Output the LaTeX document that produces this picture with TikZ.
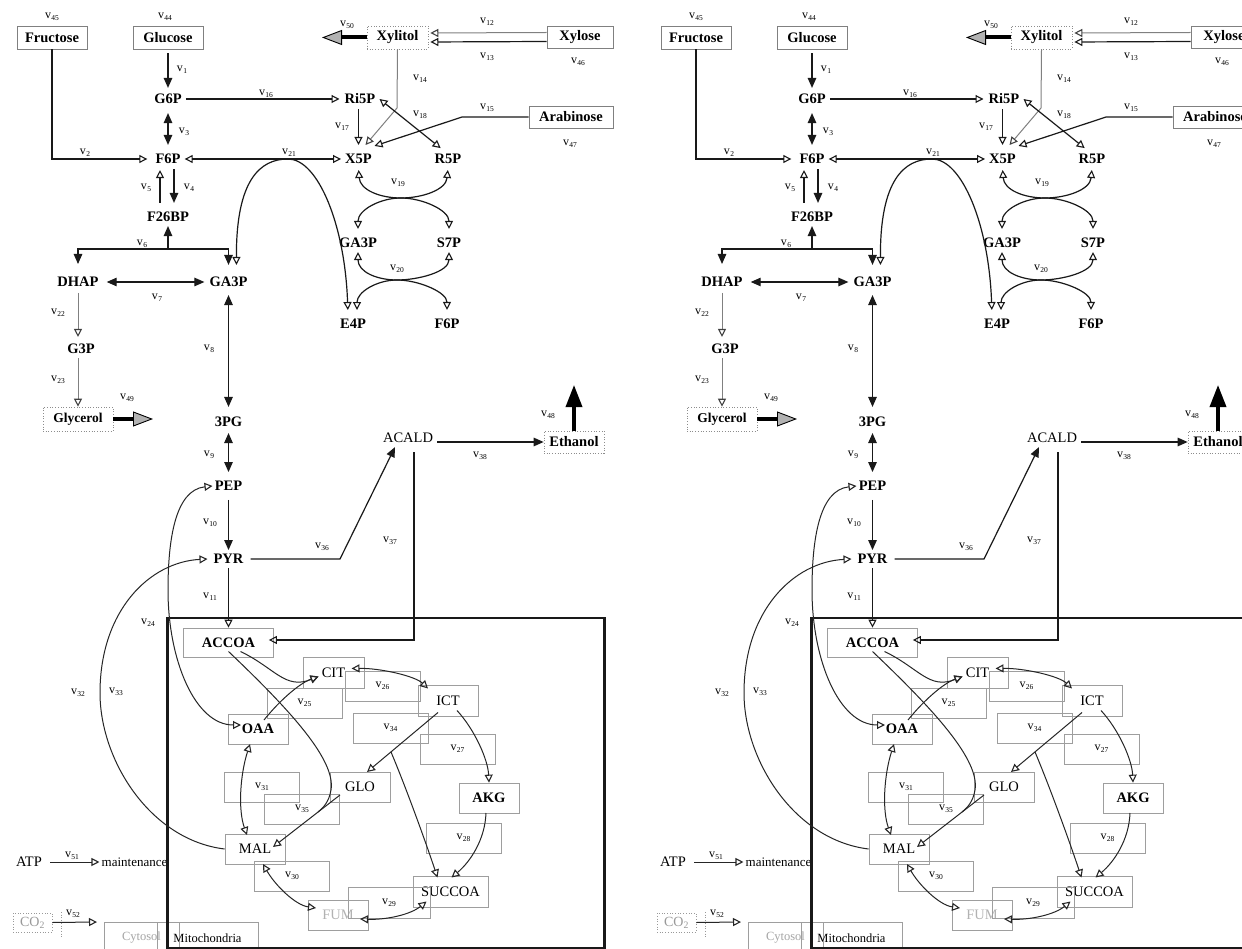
\documentclass[tikz,border=0pt]{standalone}
\usepackage{fontspec}
\setmainfont{Liberation Serif}
\usetikzlibrary{arrows.meta,calc}
\newcommand{\vl}[1]{v\kern0.3pt\raisebox{-2.3pt}{\fontsize{7.5}{8}\selectfont #1}}
\tikzset{
  met/.style={font=\fontsize{14.5}{16}\selectfont\bfseries, inner sep=4pt},
  metr/.style={font=\fontsize{14.5}{16}\selectfont, inner sep=4pt},
  vlab/.style={font=\fontsize{12}{13}\selectfont, inner sep=0pt},
  topbox/.style={font=\fontsize{14.5}{16}\selectfont\bfseries, draw=black!50, line width=0.8pt, minimum height=23pt, inner sep=0pt},
  dotbox/.style={font=\fontsize{14.5}{16}\selectfont\bfseries, draw=black!45, dotted, line width=0.7pt, minimum height=23pt, inner sep=0pt},
  mboxb/.style={font=\fontsize{14.5}{16}\selectfont\bfseries, draw=black!38, line width=0.7pt, minimum width=60pt, minimum height=30pt, inner sep=0pt},
  mboxr/.style={font=\fontsize{14.5}{16}\selectfont, draw=black!38, line width=0.7pt, minimum width=60pt, minimum height=30pt, inner sep=0pt},
  vbox/.style={vlab, draw=black!38, line width=0.7pt, minimum width=75pt, minimum height=30pt},
  lnk/.style={draw=black!90, line width=1.2pt},
  tln/.style={draw=black!85, line width=1pt},
  gln/.style={draw=black!50, line width=1pt},
  arF/.style={-{Triangle[length=10pt,width=8.5pt]}},
  arFF/.style={{Triangle[length=10pt,width=8.5pt]}-{Triangle[length=10pt,width=8.5pt]}},
  arO/.style={-{Triangle[open,length=8pt,width=8pt,line width=1.1pt]}},
  arOg/.style={-{Triangle[open,length=8pt,width=8pt,line width=1.1pt,color=black!75]}},
  arOO/.style={{Triangle[open,length=8pt,width=8pt,line width=1.1pt]}-{Triangle[open,length=8pt,width=8pt,line width=1.1pt]}},
  bigG/.style={draw=black, line width=4pt, -{Triangle[length=20pt,width=15pt,line width=0.9pt,fill=black!30]}},
  bigK/.style={draw=black, line width=3.5pt, -{Triangle[length=22pt,width=16pt]}}
}
\newcommand{\metamap}{%
% ---------- boxes ----------
\node[topbox, minimum width=70pt] (Fru) at (52,37.5) {Fructose};
\node[topbox, minimum width=70pt] (Glc) at (168,37.5) {Glucose};
\node[dotbox, minimum width=61pt] (Xyl) at (397.5,37.5) {Xylitol};
\node[topbox, minimum width=66pt, minimum height=22pt] (Xys) at (580,37) {Xylose};
\node[topbox, minimum width=84pt, minimum height=22pt] (Ara) at (571,117) {Arabinose};
\node[dotbox, minimum width=70pt, minimum height=24pt, font=\fontsize{13.5}{15}\selectfont\bfseries] (Gly) at (78,419) {Glycerol};
\node[dotbox, minimum width=60pt, minimum height=22pt] (EtOH) at (574,442) {Ethanol};
% ---------- metabolites ----------
\node[met] (G6P) at (168,99) {G6P};
\node[met] (F6P) at (168,159) {F6P};
\node[met] (F26BP) at (168,217) {F26BP};
\node[met] (DHAP) at (78,282) {DHAP};
\node[met] (GA3P) at (228.5,282) {GA3P};
\node[met] (G3P) at (81,349) {G3P};
\node[met] (PG3) at (228.5,422) {3PG};
\node[met] (PEP) at (228.5,486) {PEP};
\node[met] (PYR) at (228.5,559) {PYR};
\node[met] (Ri5P) at (360,99) {Ri5P};
\node[met] (X5P) at (358.5,159) {X5P};
\node[met] (R5P) at (448,159) {R5P};
\node[met] (GA3Pb) at (358,243) {GA3P};
\node[met] (S7P) at (449,243) {S7P};
\node[met] (E4P) at (353,324) {E4P};
\node[met] (F6Pb) at (447,324) {F6P};
\node[metr] (ACALD) at (408,438) {ACALD};
\node[metr] (ATP) at (29,862) {ATP};
\node[font=\fontsize{13}{14}\selectfont, inner sep=2pt] (Mnt) at (134.5,862) {maintenance};
\node[draw=black!40, dotted, line width=0.7pt, minimum width=39pt, minimum height=19pt, inner sep=0pt, text=black!40, font=\fontsize{14}{15}\selectfont] (CO2) at (32.5,922.5) {CO\textsubscript{2}};
% ---------- mitochondria ----------
\node[mboxb, minimum width=90pt, minimum height=29pt] (ACCOA) at (228.5,642.5) {ACCOA};
\node[mboxr, minimum width=61pt, minimum height=31pt] (CIT) at (333.5,672.5) {CIT};
\node[mboxr, minimum height=31pt] (ICT) at (448,700.5) {ICT};
\node[mboxb] (OAA) at (258,729) {OAA};
\node[mboxr] (GLO) at (360,787) {GLO};
\node[mboxb] (AKG) at (489,798) {AKG};
\node[mboxr] (MAL) at (255,849) {MAL};
\node[mboxr, minimum width=75pt, minimum height=31pt] (SUCCOA) at (450.5,891.5) {SUCCOA};
\node[mboxr, text=black!30] (FUM) at (338,915) {FUM};
\node[vbox] (bv25) at (304.5,703) {\vl{25}};
\node[vbox] (bv26) at (382.5,686) {\vl{26}};
\node[vbox] (bv34) at (390.5,728) {\vl{34}};
\node[vbox] (bv27) at (457.5,749) {\vl{27}};
\node[vbox] (bv31) at (262,787) {\vl{31}};
\node[vbox] (bv35) at (302,809) {\vl{35}};
\node[vbox] (bv28) at (463.5,838) {\vl{28}};
\node[vbox] (bv30) at (292,876) {\vl{30}};
\node[vbox, minimum width=82pt, minimum height=31pt] (bv29) at (389,902.5) {\vl{29}};
\node[draw=black!38, line width=0.7pt, minimum width=75pt, minimum height=32pt, inner sep=0pt, text=black!35, font=\fontsize{12.5}{14}\selectfont] (Cyt) at (141.5,938) {Cytosol};
\node[draw=black!38, line width=0.7pt, minimum width=101pt, minimum height=32pt, inner sep=0pt, font=\fontsize{12.5}{14}\selectfont] (Mit) at (207.5,938) {Mitochondria};
\coordinate (mitoA) at (167.5,618);
\coordinate (mitoB) at (604.5,948);
\draw[line width=2.2pt, black!90] (mitoA) rectangle (mitoB);
% ---------- v labels ----------
\node[vlab] (l45) at (52,17) {\vl{45}};
\node[vlab] (l44) at (165,17) {\vl{44}};
\node[vlab] (l1) at (182,70) {\vl{1}};
\node[vlab] (l16) at (266,94) {\vl{16}};
\node[vlab] (l3) at (184,132) {\vl{3}};
\node[vlab] (l2) at (85,153) {\vl{2}};
\node[vlab] (l21) at (289,153) {\vl{21}};
\node[vlab] (l5) at (146,188) {\vl{5}};
\node[vlab] (l4) at (189,188) {\vl{4}};
\node[vlab] (l6) at (142,244) {\vl{6}};
\node[vlab] (l7) at (157,298) {\vl{7}};
\node[vlab] (l22) at (58,313) {\vl{22}};
\node[vlab] (l23) at (58,380) {\vl{23}};
\node[vlab] (l49) at (127,398) {\vl{49}};
\node[vlab] (l8) at (209,349) {\vl{8}};
\node[vlab] (l9) at (209,455) {\vl{9}};
\node[vlab] (l10) at (210,523) {\vl{10}};
\node[vlab] (l11) at (210,597) {\vl{11}};
\node[vlab] (l24) at (148,623) {\vl{24}};
\node[vlab] (l32) at (78,693) {\vl{32}};
\node[vlab] (l33) at (116,692) {\vl{33}};
\node[vlab] (l50) at (347,25) {\vl{50}};
\node[vlab] (l12) at (487,22) {\vl{12}};
\node[vlab] (l13) at (487,57) {\vl{13}};
\node[vlab] (l46) at (578,62) {\vl{46}};
\node[vlab] (l14) at (420,79) {\vl{14}};
\node[vlab] (l17) at (342,127) {\vl{17}};
\node[vlab] (l18) at (420,115) {\vl{18}};
\node[vlab] (l15) at (487,108) {\vl{15}};
\node[vlab] (l47) at (570,144) {\vl{47}};
\node[vlab] (l19) at (398,183) {\vl{19}};
\node[vlab] (l20) at (397,269) {\vl{20}};
\node[vlab] (l38) at (480,456) {\vl{38}};
\node[vlab] (l48) at (548,415) {\vl{48}};
\node[vlab] (l36) at (322,547) {\vl{36}};
\node[vlab] (l37) at (390,541) {\vl{37}};
\node[vlab] (l51) at (72,856) {\vl{51}};
\node[vlab] (l52) at (73,914) {\vl{52}};
% ---------- helper coordinates ----------
\coordinate (v6c) at (168,249);
\coordinate (v14k) at (397,108);
\coordinate (v15k) at (462,117);
\coordinate (v19c) at (401,198);
\coordinate (v20c) at (397,280);
\coordinate (v21top) at (288,159);
\coordinate (v36k) at (340,559);
\coordinate (v49e) at (153,419);
\coordinate (v50e) at (322,37.5);
\coordinate (v48e) at (574,385);
\coordinate (v52e) at (97,922);
\coordinate (v34k) at (391,752);
\coordinate (v35k) at (318,812);
\coordinate (co2a) at (61,912);
\coordinate (co2b) at (61,937);
% ---------- glycolysis ----------
\draw[lnk, arF, shorten <=4pt, shorten >=2pt] (Glc.south) -- (G6P.north);
\draw[lnk, arFF, shorten <=5pt, shorten >=5pt] (G6P.south) -- (F6P.north);
\draw[lnk, arO, shorten >=4pt] (Fru.south) |- (F6P.west);
\draw[lnk, arO, shorten >=1pt] (G6P.east) -- (Ri5P.west);
\draw[lnk, arOO] (F6P.east) -- (X5P.west);
\draw[lnk, arF, shorten <=1pt, shorten >=5pt] ([xshift=6pt]F6P.south) -- ([xshift=6pt]F26BP.north);
\draw[lnk, arO, shorten <=5pt, shorten >=2pt] ([xshift=-8pt]F26BP.north) -- ([xshift=-8pt]F6P.south);
\draw[lnk, arF] (v6c) -- (F26BP.south);
\draw[lnk, arF, shorten >=9pt] (v6c) -| (DHAP.north);
\draw[lnk, arF, shorten >=8pt] (v6c) -| (GA3P.north);
\draw[lnk, arFF, shorten <=4pt, shorten >=1pt] (DHAP.east) -- (GA3P.west);
\draw[lnk, arFF, shorten <=4pt, shorten >=6pt] (GA3P.south) -- (PG3.north);
\draw[lnk, arFF, shorten <=2pt, shorten >=5pt] (PG3.south) -- (PEP.north);
\draw[lnk, arF, shorten <=5pt] (PEP.south) -- (PYR.north);
\draw[lnk, arO] (PYR.south) -- (ACCOA.north);
\draw[gln, arOg, shorten <=2pt, shorten >=3pt] (DHAP.south) -- (DHAP.south |- G3P.north);
\draw[gln, arOg] (DHAP.south |- G3P.south) -- (Gly.north);
\draw[bigG] (Gly.east) -- (v49e);
% ---------- pentose ----------
\draw[gln, arOg, shorten >=2pt] ([yshift=4.5pt]Xys.west) -- ([yshift=4.5pt]Xyl.east);
\draw[lnk, arO, shorten >=2pt] ([yshift=-4.5pt]Xys.west) -- ([yshift=-4.5pt]Xyl.east);
\draw[bigG] (Xyl.west) -- (v50e);
\draw[gln, arOg] (Xyl.south) -- (v14k) -- ([xshift=7pt,yshift=5pt]X5P.north);
\draw[lnk, arO, shorten <=1pt, shorten >=5pt] (Ri5P.south -| X5P.north) -- (X5P.north);
\draw[lnk, arO] (Ara.west) -- (v15k) -- ([xshift=16pt,yshift=4pt]X5P.north);
\draw[lnk, arOO, shorten >=3pt] (Ri5P.east) -- ([xshift=-5pt]R5P.north);
\draw[lnk, arOO, shorten <=2pt, shorten >=2pt] (X5P.south) .. controls (360,190) and (380,198) .. (v19c) .. controls (422,198) and (446,190) .. (R5P.south);
\draw[lnk, arOO, shorten <=5pt, shorten >=5pt] (GA3Pb.north) .. controls (358,210) and (380,198) .. (v19c) .. controls (422,198) and (449,210) .. (S7P.north);
\draw[lnk, arOO] (GA3Pb.south) .. controls (358,272) and (377,280) .. (v20c) .. controls (418,280) and (449,272) .. (S7P.south);
\draw[lnk, arOO, shorten <=5pt, shorten >=5pt] ([xshift=4pt]E4P.north) .. controls (357,292) and (377,280) .. (v20c) .. controls (418,280) and (447,292) .. (F6Pb.north);
\draw[lnk, arOO, shorten <=8pt, shorten >=5pt] ([xshift=8pt]GA3P.north) .. controls (236,180) and (260,159) .. (v21top) .. controls (318,159) and (345,225) .. ([xshift=-5pt]E4P.north);
% ---------- fermentation ----------
\draw[lnk, arF] (ACALD.east |- EtOH.west) -- (EtOH.west);
\draw[bigK] (EtOH.north) -- (v48e);
\draw[lnk, arF, shorten <=3pt] (PYR.east) -- (v36k) -- ([xshift=-13pt]ACALD.south);
\draw[lnk, arO, shorten <=5pt] ([xshift=6pt]ACALD.south) |- ([xshift=-5pt,yshift=2.5pt]ACCOA.east);
% ---------- TCA ----------
\draw[tln, arO] ([xshift=12pt,yshift=-9pt]ACCOA.center) .. controls (275,668) and (285,690) .. ([xshift=-15pt,yshift=-4pt]CIT.center);
\draw[tln, arO] ([xshift=6pt,yshift=9pt]OAA.center) .. controls (280,700) and (300,683) .. ([xshift=-15pt,yshift=-4pt]CIT.center);
\draw[tln, arOO] ([xshift=18pt,yshift=4pt]CIT.center) .. controls (380,668) and (415,676) .. ([xshift=-20pt,yshift=12pt]ICT.center);
\draw[tln, arO] ([xshift=9pt,yshift=-10pt]ICT.center) .. controls (475,730) and (488,760) .. (AKG.north);
\draw[tln, arO] ([xshift=-10pt,yshift=-12pt]ICT.center) -- ([xshift=7pt,yshift=15pt]GLO.center);
\draw[tln, arO] (v34k) .. controls (405,785) and (425,840) .. ([xshift=-13pt,yshift=14pt]SUCCOA.center);
\draw[tln, arO] ([xshift=-3pt,yshift=-15pt]AKG.center) .. controls (485,840) and (470,862) .. ([xshift=1pt,yshift=14pt]SUCCOA.center);
\draw[tln, arOO] ([xshift=-24pt,yshift=-10pt]SUCCOA.center) .. controls (410,915) and (385,920) .. ([xshift=22pt,yshift=-4pt]FUM.center);
\draw[tln, arOO] ([xshift=8pt,yshift=-15pt]MAL.center) .. controls (275,885) and (295,905) .. ([xshift=-22pt,yshift=7pt]FUM.center);
\draw[tln, arOO] ([xshift=-8pt,yshift=-15pt]OAA.center) .. controls (240,775) and (238,810) .. ([xshift=-8pt,yshift=14pt]MAL.center);
\draw[tln, arO] ([xshift=-20pt,yshift=-8pt]GLO.center) -- ([xshift=18pt,yshift=2pt]MAL.center);
\draw[tln] ([yshift=-9pt]ACCOA.center) .. controls (290,710) and (336,760) .. (331,790) .. controls (329,802) and (323,808) .. (v35k);
\draw[tln, arOO] ([xshift=-16pt]PEP.center) .. controls (175,490) and (168,540) .. (168,590) .. controls (168,660) and (195,725) .. ([xshift=-17pt,yshift=4pt]OAA.center);
\draw[tln, arO] (MAL.west) .. controls (150,840) and (100,760) .. (100,693) .. controls (100,610) and (150,562) .. ([xshift=-21pt]PYR.center);
% ---------- ATP / CO2 ----------
\draw[tln, arO, shorten <=4pt] (ATP.east) -- (Mnt.west);
\draw[tln, arO] (CO2.east) -- (v52e);
\draw[black!40, dotted, line width=0.7pt] (co2a) -- (co2b);
}
\begin{document}
\begin{tikzpicture}[x=1pt,y=-1pt]
\useasboundingbox (0,0) rectangle (1242,949);
\clip (0,0) rectangle (1242,949);
\fill[white] (0,0) rectangle (1242,949);
\begin{scope}[name prefix=L-]
\metamap
\end{scope}
\begin{scope}[name prefix=R-, xshift=644pt]
\metamap
\end{scope}
\end{tikzpicture}
\end{document}
